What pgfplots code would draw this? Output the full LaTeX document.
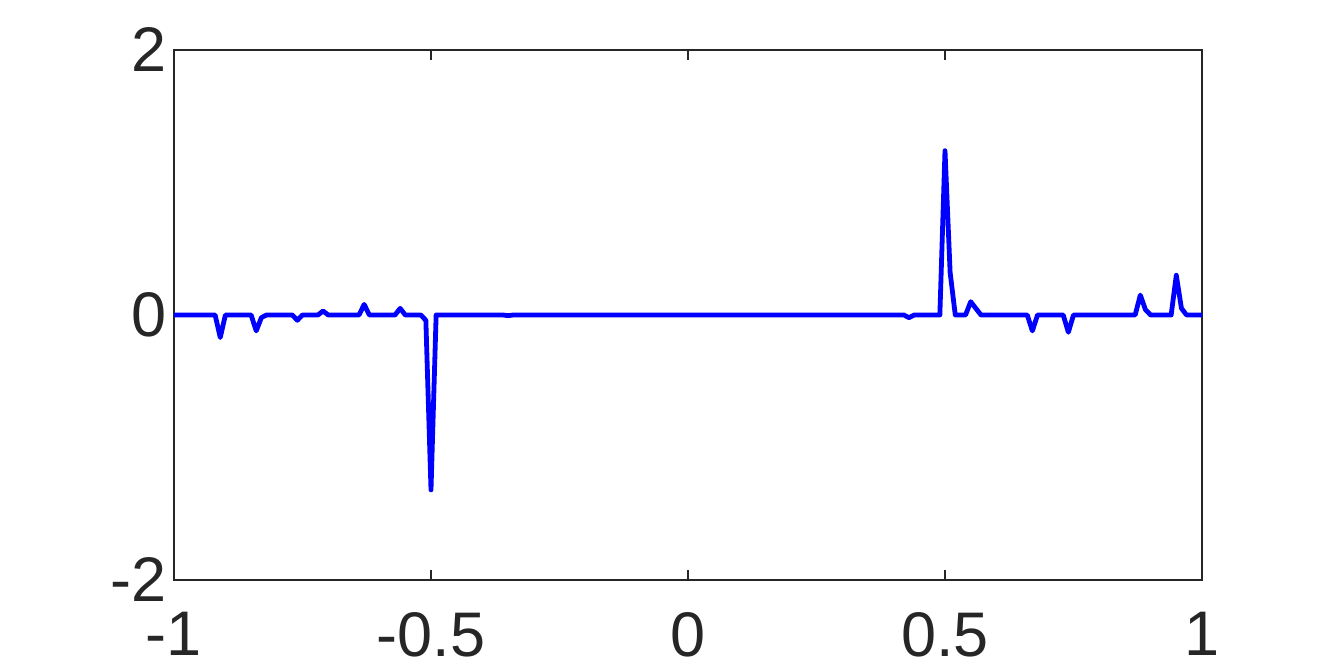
\documentclass[border=0pt]{standalone}
\usepackage{fontspec}
\setmainfont{Liberation Sans}
\usepackage{pgfplots}
\pgfplotsset{compat=1.18}
\definecolor{axgrey}{HTML}{262626}
\definecolor{mlblue}{HTML}{0000FF}

\begin{document}
\begin{tikzpicture}
\path[use as bounding box] (0,0) rectangle (665pt,336pt);
\begin{axis}[
  at={(87pt,46pt)}, anchor=south west,
  scale only axis,
  width=514pt, height=265pt,
  xmin=-1, xmax=1, ymin=-2, ymax=2,
  xtick={-1,-0.5,0,0.5,1},
  xticklabels={-1,-0.5,0,0.5,1},
  ytick={-2,0,2},
  yticklabels={-2,0,2},
  tick align=inside,
  major tick length=5pt,
  axis line style={draw=axgrey, line width=0.7pt},
  every tick/.style={draw=axgrey, line width=0.7pt},
  tick label style={font=\fontsize{31.5}{34}\selectfont, text=axgrey},
  xticklabel style={yshift=-12.5pt},
]
\addplot[mlblue, line width=2.4pt, line join=round] coordinates {
  (-1,0) (-0.92,0) (-0.91,-0.17) (-0.90,0) (-0.85,0) (-0.84,-0.12) (-0.83,-0.02)
  (-0.82,0) (-0.77,0) (-0.76,-0.04) (-0.75,0) (-0.72,0) (-0.71,0.03) (-0.70,0)
  (-0.64,0) (-0.63,0.08) (-0.62,0) (-0.57,0) (-0.56,0.05) (-0.55,0) (-0.52,0)
  (-0.51,-0.04) (-0.50,-1.32) (-0.49,0) (-0.36,0) (-0.35,-0.005) (-0.34,0)
  (0.42,0) (0.43,-0.02) (0.44,0) (0.49,0) (0.50,1.24) (0.51,0.32) (0.52,0)
  (0.54,0) (0.55,0.10) (0.56,0.05) (0.57,0) (0.66,0) (0.67,-0.12) (0.68,0)
  (0.73,0) (0.74,-0.13) (0.75,0) (0.87,0) (0.88,0.15) (0.89,0.04) (0.90,0)
  (0.94,0) (0.95,0.30) (0.96,0.05) (0.97,0) (1,0)
};
\end{axis}
\end{tikzpicture}
\end{document}
